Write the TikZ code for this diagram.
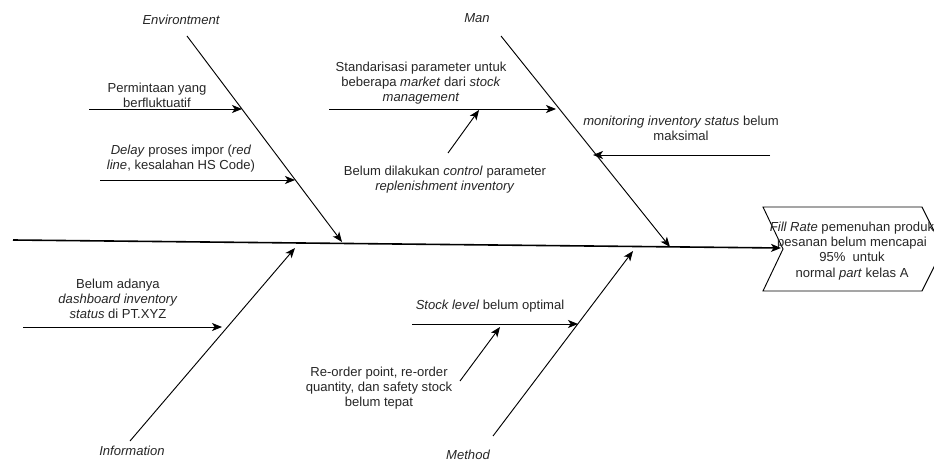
\documentclass[tikz,border=0pt]{standalone}
\usepackage{fontspec}
\setmainfont{Liberation Sans}
\usetikzlibrary{arrows.meta}

\begin{document}
\begin{tikzpicture}[x=0.75pt,y=-0.75pt,
	txt/.style={align=center,inner sep=0pt,text=black!85,font=\fontsize{9.8}{11.4}\selectfont},
	cat/.style={txt,font=\fontsize{9.8}{11.4}\selectfont\itshape},
	bone/.style={line width=0.7pt,-{Stealth[length=7.5pt,width=6pt,inset=2pt]}},
	spine/.style={line width=1.2pt,-{Stealth[length=7.5pt,width=6pt,inset=2pt]}}]
	\useasboundingbox (0,0) rectangle (934,463);
	% kepala ikan
	\draw[line width=0.7pt] (763,207) -- (922,207) -- (943,249) -- (922,291) -- (763,291) -- (783,249) -- cycle;
	\node[txt] (effect) at (852,251) {\textit{Fill Rate} pemenuhan produk\\pesanan belum mencapai\\95\%\ \ untuk\\normal \textit{part} kelas A};
	\coordinate (tail) at (13,240); \coordinate (head) at (781,248);
	\draw[spine] (tail) -- (head);
	% Environtment
	\node[cat] (env) at (181,20) {Environtment};
	\coordinate (env0) at (187,36); \coordinate (env1) at (342,242);
	\draw[bone] (env0) -- (env1);
	\node[txt] (perm) at (157,95) {Permintaan yang\\berfluktuatif};
	\coordinate (perm0) at (89,109); \coordinate (perm1) at (242,109);
	\draw[bone] (perm0) -- (perm1);
	\node[txt] (delay) at (181,159) {\textit{Delay} proses impor (\textit{red}\\\textit{line}, kesalahan HS Code)};
	\coordinate (delay0) at (100,180); \coordinate (delay1) at (295,180);
	\draw[bone] (delay0) -- (delay1);
	% Man
	\node[cat] (man) at (477,18) {Man};
	\coordinate (man0) at (501,36); \coordinate (man1) at (670,247);
	\draw[bone] (man0) -- (man1);
	\node[txt] (std) at (421,83) {Standarisasi parameter untuk\\beberapa \textit{market} dari \textit{stock}\\\textit{management}};
	\coordinate (std0) at (329,109); \coordinate (std1) at (556,109);
	\draw[bone] (std0) -- (std1);
	\node[txt] (ctrl) at (445,180) {Belum dilakukan \textit{control} parameter\\\textit{replenishment inventory}};
	\coordinate (ctrl0) at (448,153); \coordinate (ctrl1) at (479,110);
	\draw[bone] (ctrl0) -- (ctrl1);
	\node[txt] (mon) at (681,128) {\textit{monitoring inventory status} belum\\maksimal};
	\coordinate (mon0) at (770,155); \coordinate (mon1) at (593,155);
	\draw[bone] (mon0) -- (mon1);
	% Information
	\node[cat] (info) at (132,451) {Information};
	\coordinate (info0) at (130,441); \coordinate (info1) at (295,248);
	\draw[bone] (info0) -- (info1);
	\node[txt] (dash) at (118,299) {Belum adanya\\\textit{dashboard inventory}\\\textit{status} di PT.XYZ};
	\coordinate (dash0) at (23,327); \coordinate (dash1) at (222,327);
	\draw[bone] (dash0) -- (dash1);
	% Method
	\node[cat] (meth) at (468,455) {Method};
	\coordinate (meth0) at (493,436); \coordinate (meth1) at (633,251);
	\draw[bone] (meth0) -- (meth1);
	\node[txt] (stock) at (490,306) {\textit{Stock level} belum optimal};
	\coordinate (stock0) at (412,324); \coordinate (stock1) at (578,324);
	\draw[bone] (stock0) -- (stock1);
	\node[txt] (rop) at (379,388) {Re-order point, re-order\\quantity, dan safety stock\\belum tepat};
	\coordinate (rop0) at (460,381); \coordinate (rop1) at (500,327);
	\draw[bone] (rop0) -- (rop1);
\end{tikzpicture}
\end{document}
